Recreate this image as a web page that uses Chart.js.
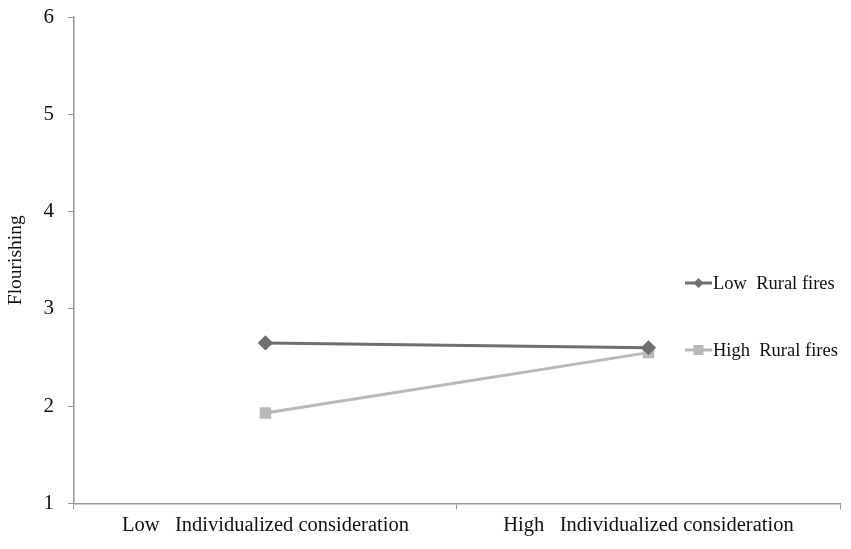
<!DOCTYPE html>
<html>
<head>
<meta charset="utf-8">
<script src="https://cdn.jsdelivr.net/npm/chart.js@4/dist/chart.umd.min.js"></script>
<style>
    html, body { margin: 0; padding: 0; background: #fff; }
    #wrap { width: 851px; height: 549px; position: relative; }
</style>
</head>
<body>
<div id="wrap"><canvas id="mainChart"></canvas></div>
<script>
const categories = ['Low   Individualized consideration', 'High   Individualized consideration'];
const lowRuralFires = [2.65, 2.60];
const highRuralFires = [1.93, 2.55];
const seriesNames = ['Low  Rural fires', 'High  Rural fires'];
const yTicks = [1, 2, 3, 4, 5, 6];

const darkGray = '#6f6f6f';
const lightGray = '#b9b9b9';
const axisGray = '#999999';
const serif = "'Liberation Serif', 'Times New Roman', serif";

// legend drawn by hand so the plot keeps its full width (legend sits over it, like the original)
const sideLegend = {
    id: 'sideLegend',
    afterDraw(chart) {
        const ctx = chart.ctx;
        const items = [
            { name: seriesNames[0], color: darkGray, shape: 'diamond', y: 283 },
            { name: seriesNames[1], color: lightGray, shape: 'square', y: 350 }
        ];
        ctx.save();
        ctx.font = '18.5px ' + serif;
        ctx.textBaseline = 'middle';
        items.forEach(it => {
            const x0 = 685, x1 = 712, cx = (x0 + x1) / 2;
            ctx.strokeStyle = it.color;
            ctx.lineWidth = 3;
            ctx.beginPath();
            ctx.moveTo(x0, it.y);
            ctx.lineTo(x1, it.y);
            ctx.stroke();
            ctx.fillStyle = it.color;
            if (it.shape === 'diamond') {
                ctx.beginPath();
                ctx.moveTo(cx, it.y - 5);
                ctx.lineTo(cx + 5, it.y);
                ctx.lineTo(cx, it.y + 5);
                ctx.lineTo(cx - 5, it.y);
                ctx.closePath();
                ctx.fill();
            } else {
                ctx.fillRect(cx - 5, it.y - 5, 10, 10);
            }
            ctx.fillStyle = '#111';
            ctx.fillText(it.name, 713, it.y + 1);
        });
        ctx.restore();
    }
};

new Chart(document.getElementById('mainChart').getContext('2d'), {
    type: 'line',
    data: {
        labels: categories,
        datasets: [
            {
                label: seriesNames[0], data: lowRuralFires,
                borderColor: darkGray, backgroundColor: darkGray, borderWidth: 3,
                pointStyle: 'rectRot', pointRadius: 5.5, pointHoverRadius: 5.5
            },
            {
                label: seriesNames[1], data: highRuralFires,
                borderColor: lightGray, backgroundColor: lightGray, borderWidth: 3,
                pointStyle: 'rect', pointRadius: 6, pointHoverRadius: 6
            }
        ]
    },
    options: {
        responsive: true,
        maintainAspectRatio: false,
        animation: false,
        layout: { padding: { left: 2, right: 11, top: 0, bottom: 7 } },
        plugins: { legend: { display: false }, tooltip: { enabled: false } },
        scales: {
            x: {
                offset: true,
                grid: { display: true, offset: true, drawOnChartArea: false, drawTicks: true, tickLength: 6, color: axisGray },
                border: { color: axisGray, width: 1.5 },
                ticks: { color: '#111', font: { family: serif, size: 20.5 }, padding: 4, maxRotation: 0 }
            },
            y: {
                min: yTicks[0],
                max: yTicks[yTicks.length - 1],
                afterBuildTicks: (axis) => { axis.ticks = yTicks.map(v => ({ value: v })); },
                afterFit: (axis) => { axis.paddingTop = 17; },
                grid: { display: true, drawOnChartArea: false, drawTicks: true, tickLength: 6, color: axisGray },
                border: { color: axisGray, width: 1.5 },
                ticks: { color: '#111', font: { family: serif, size: 21 }, padding: 14 },
                title: { display: true, text: 'Flourishing', color: '#111', font: { family: serif, size: 19.5 }, padding: 2 }
            }
        }
    },
    plugins: [sideLegend]
});
</script>
</body>
</html>
